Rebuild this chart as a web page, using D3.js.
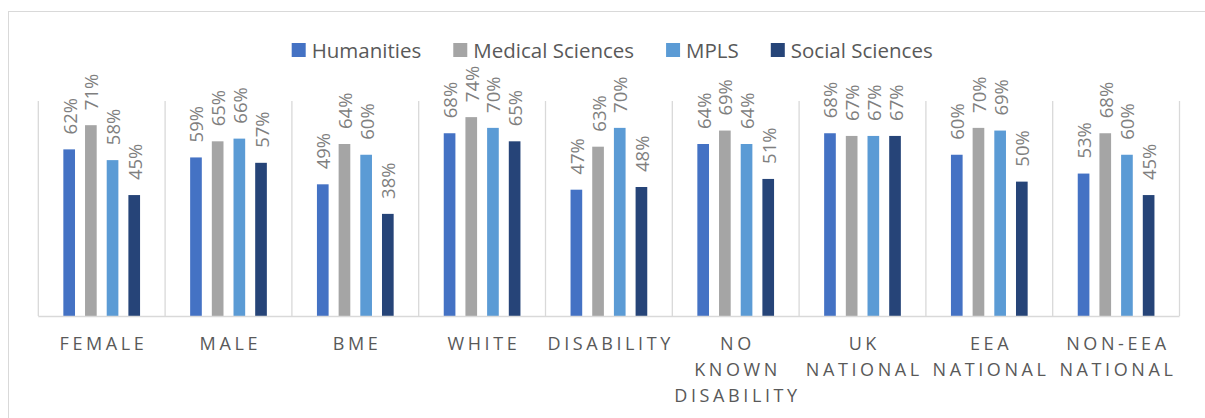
<!DOCTYPE html>
<html>
<head>
<meta charset="utf-8">
<script src="https://cdn.jsdelivr.net/npm/d3@7"></script>
<style>
  html, body { margin: 0; padding: 0; background: #fff; }
  svg { display: block; font-family: "Open Sans", sans-serif; }
</style>
</head>
<body>
<svg id="chart" width="1205" height="418"></svg>
<script>
const categories = ["FEMALE", "MALE", "BME", "WHITE", "DISABILITY", "NO KNOWN DISABILITY", "UK NATIONAL", "EEA NATIONAL", "NON-EEA NATIONAL"];
const seriesNames = ["Humanities", "Medical Sciences", "MPLS", "Social Sciences"];
const humanities      = [0.62, 0.59, 0.49, 0.68, 0.47, 0.64, 0.68, 0.60, 0.53];
const medicalSciences = [0.71, 0.65, 0.64, 0.74, 0.63, 0.69, 0.67, 0.70, 0.68];
const mpls            = [0.58, 0.66, 0.60, 0.70, 0.70, 0.64, 0.67, 0.69, 0.60];
const socialSciences  = [0.45, 0.57, 0.38, 0.65, 0.48, 0.51, 0.67, 0.50, 0.45];
const seriesColors = ["#4472C4", "#A5A5A5", "#5B9BD5", "#264478"];

const seriesValues = [humanities, medicalSciences, mpls, socialSciences];

const svg = d3.select("#chart");
const margin = { left: 38.3, right: 1179.5, top: 101, bottom: 316 };

// chart border
svg.append("rect")
  .attr("x", 8.5).attr("y", 11.5)
  .attr("width", 1230).attr("height", 430)
  .attr("fill", "none").attr("stroke", "#d9d9d9").attr("stroke-width", 1);

const x0 = d3.scaleBand().domain(categories).range([margin.left, margin.right]).padding(0);
const step = x0.step();
const barW = step * 0.092;
const pitch = step * 0.171;
const x1 = d3.scaleOrdinal().domain(seriesNames).range(seriesNames.map((s, i) => i * pitch));
const groupW = 3 * pitch + barW;

const y = d3.scaleLinear().domain([0, 0.8]).range([margin.bottom, margin.top]);

// vertical gridlines between categories
const bounds = categories.map(c => x0(c)).concat([margin.right]);
svg.append("g").selectAll("line").data(bounds).join("line")
  .attr("x1", d => d).attr("x2", d => d)
  .attr("y1", y(0.8)).attr("y2", y(0))
  .attr("stroke", "#d9d9d9").attr("stroke-width", 1.3);

// bars
const rows = [];
categories.forEach((c, ci) => {
  seriesNames.forEach((s, si) => {
    rows.push({ cat: c, series: s, si, value: seriesValues[si][ci] });
  });
});

const barX = d => x0(d.cat) + (step - groupW) / 2 + x1(d.series);

svg.append("g").selectAll("rect").data(rows).join("rect")
  .attr("x", barX)
  .attr("y", d => y(d.value))
  .attr("width", barW)
  .attr("height", d => y(0) - y(d.value))
  .attr("fill", d => seriesColors[d.si]);

// x axis baseline
svg.append("line")
  .attr("x1", margin.left).attr("x2", margin.right)
  .attr("y1", y(0) + 0.5).attr("y2", y(0) + 0.5)
  .attr("stroke", "#d9d9d9").attr("stroke-width", 1.5);

// data labels (rotated)
svg.append("g").selectAll("text").data(rows).join("text")
  .attr("transform", d => `translate(${barX(d) + barW / 2},${y(d.value) - 15}) rotate(-90)`)
  .attr("text-anchor", "start")
  .attr("dominant-baseline", "central")
  .attr("font-size", 18.5)
  .attr("fill", "#7f7f7f")
  .text(d => d3.format(".0%")(d.value));

// category labels
const catG = svg.append("g");
categories.forEach(c => {
  const lines = c.split(" ");
  const t = catG.append("text")
    .attr("text-anchor", "middle")
    .attr("font-size", 18)
    .attr("letter-spacing", "3.6px")
    .attr("fill", "#595959");
  lines.forEach((ln, i) => {
    t.append("tspan")
      .attr("x", x0(c) + step / 2 + 1.8)
      .attr("y", 350 + i * 26)
      .text(ln);
  });
});

// legend
const legend = svg.append("g");
let lx = 291.7;
seriesNames.forEach((s, i) => {
  legend.append("rect")
    .attr("x", lx).attr("y", 43).attr("width", 14).attr("height", 14)
    .attr("fill", seriesColors[i]);
  const t = legend.append("text")
    .attr("x", lx + 20).attr("y", 50)
    .attr("dominant-baseline", "central")
    .attr("font-size", 20.5)
    .attr("fill", "#595959")
    .text(s);
  lx += 20 + t.node().getComputedTextLength() + 32;
});
</script>
</body>
</html>
